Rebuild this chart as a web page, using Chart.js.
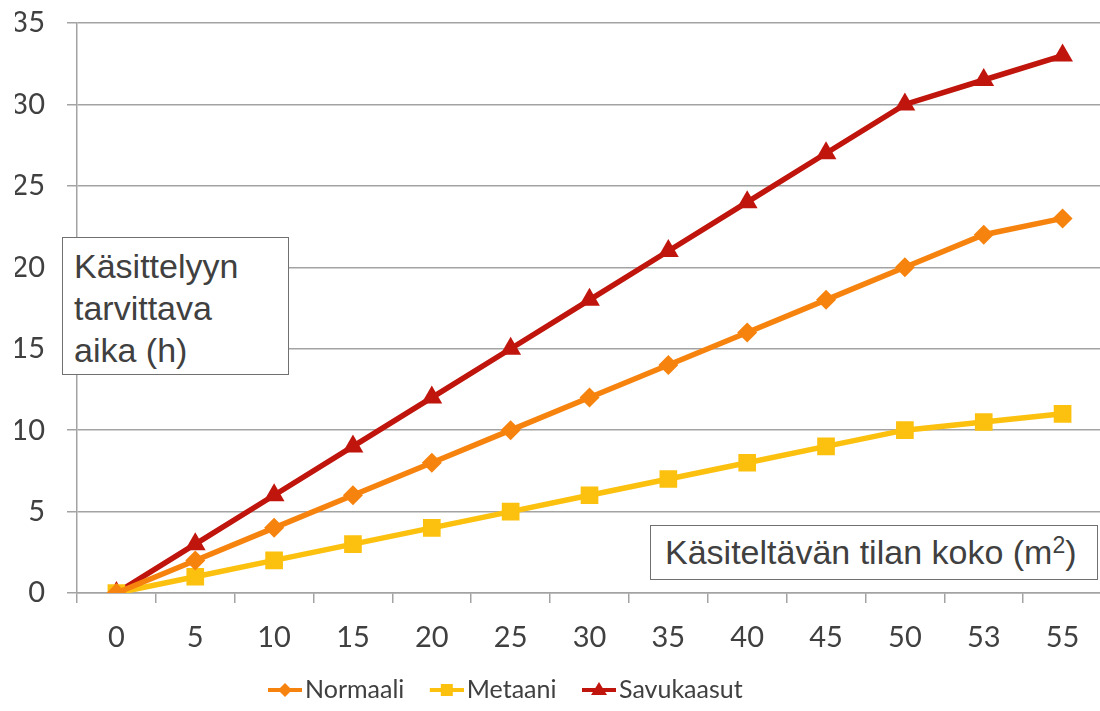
<!DOCTYPE html>
<html>
<head>
<meta charset="utf-8">
<script src="https://cdn.jsdelivr.net/npm/chart.js@4.4.1/dist/chart.umd.min.js"></script>
<style>
  html, body { margin: 0; padding: 0; background: #fff; }
  #wrap { position: relative; width: 1100px; height: 711px; }
  .box {
    position: absolute; box-sizing: border-box; background: #fff;
    border: 1.5px solid #707070; color: #404040;
    font-family: "Liberation Sans", Arial, sans-serif; font-size: 34px;
  }
  #yTitle { left: 62px; top: 237px; width: 227px; height: 138px; padding: 7px 0 0 11px; line-height: 42px; }
  #xTitle { left: 650px; top: 525px; width: 448px; height: 55px; padding: 0 0 0 14px; line-height: 52px; }
  #xTitle sup { font-size: 23px; vertical-align: 11px; line-height: 0; }
</style>
</head>
<body>
<div id="wrap">
  <canvas id="chart" width="1100" height="711"></canvas>
  <div class="box" id="yTitle">Käsittelyyn<br>tarvittava<br>aika (h)</div>
  <div class="box" id="xTitle">Käsiteltävän tilan koko (m<sup>2</sup>)</div>
</div>
<script>
// data
const categories = ["0", "5", "10", "15", "20", "25", "30", "35", "40", "45", "50", "53", "55"];
const normaali = [0, 2, 4, 6, 8, 10, 12, 14, 16, 18, 20, 22, 23];
const metaani = [0, 1, 2, 3, 4, 5, 6, 7, 8, 9, 10, 10.5, 11];
const savukaasut = [0, 3, 6, 9, 12, 15, 18, 21, 24, 27, 30, 31.5, 33];
const yTicks = [0, 5, 10, 15, 20, 25, 30, 35];

const ORANGE = "#F7830F";
const YELLOW = "#FCC00E";
const RED = "#C0150C";
const GRID = "#a3a3a3";
const TXT = "#404040";

// legend symbol: line with marker, placed in the right part of the canvas
function legendIcon(color, shape) {
  const c = document.createElement("canvas");
  c.width = 59; c.height = 24;
  const g = c.getContext("2d");
  const x0 = 25, x1 = 59, cx = 42, cy = 12;
  g.strokeStyle = color; g.fillStyle = color; g.lineWidth = 4;
  g.beginPath(); g.moveTo(x0, cy); g.lineTo(x1, cy); g.stroke();
  g.beginPath();
  if (shape === "diamond") {
    g.moveTo(cx, cy - 7); g.lineTo(cx + 7, cy); g.lineTo(cx, cy + 7); g.lineTo(cx - 7, cy);
  } else if (shape === "square") {
    g.rect(cx - 6, cy - 6, 12, 12);
  } else {
    g.moveTo(cx, cy - 8); g.lineTo(cx + 8, cy + 5); g.lineTo(cx - 8, cy + 5);
  }
  g.closePath(); g.fill();
  return c;
}
const icons = [legendIcon(ORANGE, "diamond"), legendIcon(YELLOW, "square"), legendIcon(RED, "triangle")];

// plot area runs to the right edge, legend sits where the reference has it
const fixLayout = {
  id: "fixLayout",
  afterLayout(chart) {
    const area = chart.chartArea;
    area.right = 1102;
    area.width = area.right - area.left;
    const xs = chart.scales.x;
    xs.right = area.right;
    xs.width = xs.right - xs.left;
    xs.configure();

    const lg = chart.legend;
    const h = lg.height;
    lg.left = 242.5; lg.right = 1100;
    lg.top = 667.5; lg.bottom = lg.top + h;
  }
};

// tick padding should not push the plot area inwards
function clearPadding(scale) {
  scale.paddingTop = 0; scale.paddingBottom = 0;
  scale.paddingLeft = 0; scale.paddingRight = 0;
}

const ctx = document.getElementById("chart");
new Chart(ctx, {
  type: "line",
  data: {
    labels: categories,
    datasets: [
      { label: "Normaali", data: normaali, borderColor: ORANGE, backgroundColor: ORANGE,
        pointStyle: "rectRot", pointRadius: 10, pointHoverRadius: 10 },
      { label: "Metaani", data: metaani, borderColor: YELLOW, backgroundColor: YELLOW,
        pointStyle: "rect", pointRadius: 12.5, pointHoverRadius: 12.5 },
      { label: "Savukaasut", data: savukaasut, borderColor: RED, backgroundColor: RED,
        pointStyle: "triangle", pointRadius: 12, pointHoverRadius: 12 },
    ],
  },
  options: {
    responsive: false,
    animation: false,
    layout: { padding: { left: 15, right: 0, top: 23, bottom: 12 } },
    elements: {
      line: { borderWidth: 5.5, tension: 0 },
      point: { borderWidth: 0 },
    },
    plugins: {
      tooltip: { enabled: false },
      title: { display: false },
      legend: {
        position: "bottom",
        align: "start",
        labels: {
          usePointStyle: true,
          pointStyleWidth: 40,
          padding: 10,
          color: TXT,
          font: { family: "Lato", size: 25 },
          generateLabels: (chart) => {
            const items = Chart.defaults.plugins.legend.labels.generateLabels(chart);
            items.forEach((it, i) => { it.pointStyle = icons[i]; });
            return items;
          },
        },
      },
    },
    scales: {
      x: {
        offset: true,
        afterFit: (scale) => { clearPadding(scale); scale.height = 61; },
        grid: { drawOnChartArea: false, offset: true, tickLength: 10, color: GRID, lineWidth: 1.5 },
        border: { color: GRID, width: 1.5 },
        ticks: { color: TXT, padding: 17, font: { family: "Lato", size: 29 }, maxRotation: 0, autoSkip: false },
      },
      y: {
        min: 0,
        max: 35,
        afterFit: (scale) => { clearPadding(scale); scale.width = 62; },
        afterBuildTicks: (axis) => { axis.ticks = yTicks.map((v) => ({ value: v })); },
        grid: { tickLength: 10, color: GRID, lineWidth: 1.5 },
        border: { color: GRID, width: 1.5 },
        ticks: { color: TXT, padding: 22, font: { family: "Lato", size: 29 } },
      },
    },
  },
  plugins: [fixLayout],
});
</script>
</body>
</html>
